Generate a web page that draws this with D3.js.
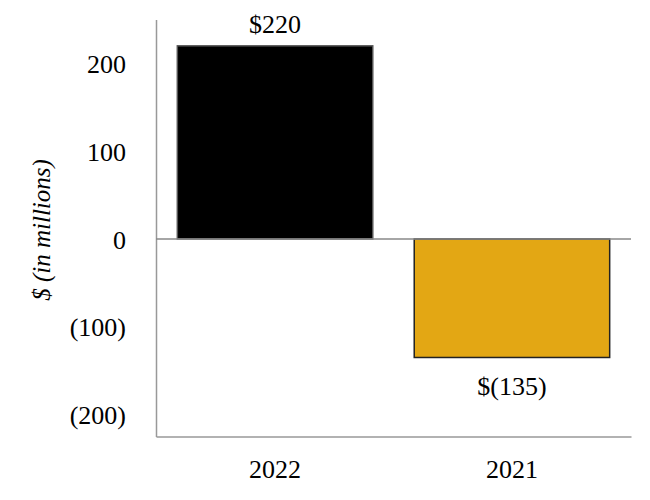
<!DOCTYPE html>
<html>
<head>
<meta charset="utf-8">
<style>
body { margin: 0; background: #fff; }
text { font-family: "Liberation Serif", "Times New Roman", serif; fill: #000; }
</style>
<script src="https://d3js.org/d3.v7.min.js"></script>
</head>
<body>
<script>
// chart data
var years = ["2022", "2021"];
var amounts = [220, -135];
var barLabels = ["$220", "$(135)"];
var barColors = ["#000000", "#E3A714"];
var tickValues = [200, 100, 0, -100, -200];

var width = 650, height = 500;
var margin = {left: 156, right: 19, top: 19.5, bottom: 63.5};

var svg = d3.select("body").append("svg")
    .attr("width", width)
    .attr("height", height);

var x = d3.scaleBand()
    .domain(years)
    .range([margin.left, width - margin.right])
    .paddingInner(0.175)
    .paddingOuter(0.09);

var y = d3.scaleLinear()
    .domain([-225, 250])
    .range([height - margin.bottom, margin.top]);

// tick labels, accounting style for negatives
function fmt(v) {
  return v < 0 ? "(" + Math.abs(v) + ")" : String(v);
}

var yAxis = svg.append("g")
    .attr("transform", "translate(" + margin.left + ",0)")
    .call(d3.axisLeft(y).tickValues(tickValues).tickFormat(fmt).tickSize(0).tickPadding(30));
yAxis.select(".domain").attr("stroke", "#999").attr("stroke-width", 1.5);
yAxis.selectAll("text")
    .style("font-family", "Liberation Serif")
    .style("font-size", "26px")
    .attr("dy", "0.35em");

// bottom axis with category labels
var xAxis = svg.append("g")
    .attr("transform", "translate(0," + (height - margin.bottom) + ")")
    .call(d3.axisBottom(x).tickSize(0).tickPadding(23).tickSizeOuter(0));
xAxis.select(".domain").attr("stroke", "#999").attr("stroke-width", 1.5);
xAxis.selectAll("text")
    .style("font-family", "Liberation Serif")
    .style("font-size", "26px");

// bars
svg.selectAll("rect.bar")
    .data(amounts)
    .enter().append("rect")
    .attr("class", "bar")
    .attr("x", function(d, i) { return x(years[i]); })
    .attr("width", x.bandwidth())
    .attr("y", function(d) { return y(Math.max(0, d)); })
    .attr("height", function(d) { return Math.abs(y(d) - y(0)); })
    .attr("fill", function(d, i) { return barColors[i]; })
    .attr("stroke", function(d, i) { return i == 0 ? "#555" : "#222"; })
    .attr("stroke-width", 1.5);

// zero line
svg.append("line")
    .attr("x1", margin.left)
    .attr("x2", width - margin.right)
    .attr("y1", y(0))
    .attr("y2", y(0))
    .attr("stroke", "#888")
    .attr("stroke-width", 1.5);

// value labels
svg.selectAll("text.val")
    .data(amounts)
    .enter().append("text")
    .attr("class", "val")
    .attr("x", function(d, i) { return x(years[i]) + x.bandwidth() / 2; })
    .attr("y", function(d) { return d >= 0 ? y(d) - 13 : y(d) + 38; })
    .attr("text-anchor", "middle")
    .style("font-size", "26px")
    .text(function(d, i) { return barLabels[i]; });

// y axis title
svg.append("text")
    .attr("transform", "translate(50," + 230 + ") rotate(-90)")
    .attr("text-anchor", "middle")
    .style("font-size", "25px")
    .style("font-style", "italic")
    .text("$ (in millions)");
</script>
</body>
</html>
